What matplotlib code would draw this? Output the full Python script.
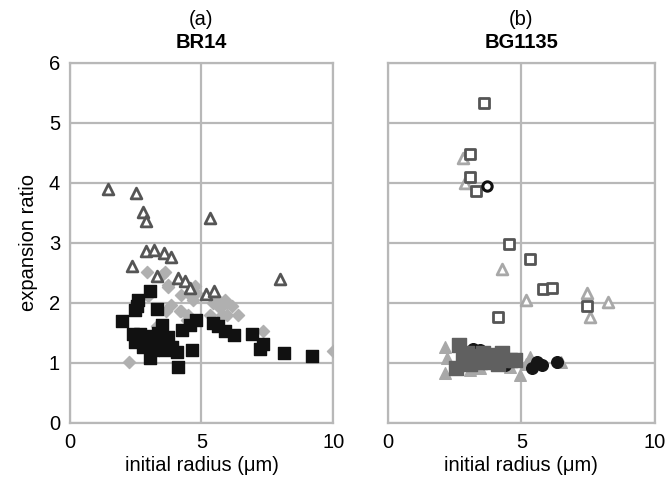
import matplotlib
matplotlib.use('Agg')
import matplotlib.pyplot as plt

plt.rcParams['font.family'] = ['Liberation Sans', 'DejaVu Sans']

# (a) BR14
br_tri_x = [1.46, 2.53, 2.78, 2.91, 5.34, 2.91, 3.2, 3.58, 3.86, 2.38, 3.32, 4.11, 4.39, 4.56, 5.19, 5.47, 8.0]
br_tri_y = [3.89, 3.83, 3.51, 3.36, 3.41, 2.87, 2.88, 2.83, 2.77, 2.61, 2.44, 2.41, 2.36, 2.24, 2.14, 2.19, 2.39]
br_dia_x = [2.94, 3.61, 3.5, 3.71, 4.75, 4.24, 4.56, 4.81, 4.68, 2.97, 3.86, 3.67, 4.24, 4.49, 5.44, 5.70,
            5.89, 6.14, 5.32, 5.95, 6.39, 3.32, 2.91, 7.34, 2.24, 10.0, 5.7, 3.74, 4.18, 4.44, 5.58, 5.96, 5.77]
br_dia_y = [2.51, 2.52, 2.47, 2.26, 2.28, 2.13, 2.13, 2.16, 2.05, 2.11, 1.97, 1.86, 1.86, 1.80, 1.99, 2.02,
            2.05, 1.94, 1.80, 1.80, 1.80, 1.61, 1.37, 1.53, 1.01, 1.2, 1.91, 2.3, 1.86, 1.72, 2.05, 1.99, 1.8]
br_sq_x = [3.04, 2.6, 2.47, 3.3, 1.97, 2.66, 2.47, 2.79, 3.17, 3.49, 3.49, 3.74, 3.87, 3.61, 3.17, 4.06,
           4.63, 3.04, 4.12, 4.25, 4.56, 4.81, 2.41, 5.44, 5.63, 5.89, 6.23, 6.9, 7.32, 7.22, 8.13, 9.2,
           2.55, 2.95, 3.35, 3.0]
br_sq_y = [2.19, 2.05, 1.88, 1.89, 1.69, 1.49, 1.35, 1.27, 1.38, 1.63, 1.35, 1.44, 1.27, 1.22, 1.22, 1.19,
           1.22, 1.08, 0.94, 1.55, 1.63, 1.72, 1.49, 1.66, 1.61, 1.54, 1.47, 1.49, 1.32, 1.24, 1.17, 1.12,
           1.94, 1.45, 1.5, 1.3]

# (b) BG1135
bg_osq_x = [3.61, 3.07, 3.07, 3.32, 4.53, 5.32, 5.82, 6.13, 7.44, 4.13]
bg_osq_y = [5.33, 4.48, 4.09, 3.86, 2.98, 2.73, 2.23, 2.24, 1.94, 1.76]
bg_otri_x = [2.8, 2.88, 4.28, 5.19, 7.44, 8.23, 7.57]
bg_otri_y = [4.42, 4.0, 2.56, 2.05, 2.17, 2.02, 1.77]
bg_ocirc_x = [3.72]
bg_ocirc_y = [3.95]
bg_sq_x = [2.67, 2.57, 2.95, 3.2, 3.57, 3.95, 4.26, 4.57, 3.07, 3.45, 3.82, 4.13, 4.76, 2.82]
bg_sq_y = [1.3, 0.91, 1.16, 1.11, 1.16, 1.13, 1.16, 1.05, 0.99, 1.02, 1.02, 0.99, 1.05, 1.05]
bg_circ_x = [3.2, 3.45, 5.57, 5.76, 5.38, 6.32, 4.38]
bg_circ_y = [1.24, 1.22, 1.02, 0.97, 0.91, 1.02, 0.97]
bg_tri_x = [2.13, 2.2, 2.13, 4.94, 5.32, 6.5, 4.57, 3.07, 3.45, 5.19]
bg_tri_y = [1.27, 1.08, 0.83, 0.8, 1.1, 1.02, 0.94, 0.88, 0.92, 0.99]

fig = plt.figure(figsize=(6.65, 4.79), dpi=100)
ax1 = fig.add_axes([0.105, 0.117, 0.396, 0.752])
ax2 = fig.add_axes([0.583, 0.117, 0.402, 0.752])

fs = 14.5
gc = '#b8b8b8'
for ax in (ax1, ax2):
    ax.set_xlim(0, 10)
    ax.set_ylim(0, 6)
    ax.set_xticks([0, 5, 10])
    ax.set_yticks(range(7))
    ax.grid(True, color=gc, linewidth=1.6)
    ax.set_axisbelow(True)
    for s in ax.spines.values():
        s.set_color(gc)
        s.set_linewidth(1.6)
    ax.tick_params(length=0, labelsize=fs, pad=7)
    ax.set_xlabel('initial radius (\u03bcm)', fontsize=fs, labelpad=3)

ax2.tick_params(labelleft=False)
ax1.set_ylabel('expansion ratio', fontsize=fs, labelpad=8)

ax1.scatter(br_dia_x, br_dia_y, marker='D', s=38, color='#b0b0b0', zorder=3)
ax1.scatter(br_sq_x, br_sq_y, marker='s', s=80, color='#111111', zorder=4)
ax1.scatter(br_tri_x, br_tri_y, marker='^', s=60, facecolors='white', edgecolors='#555555',
            linewidths=2, zorder=5)

ax2.scatter(bg_tri_x, bg_tri_y, marker='^', s=70, color='#a8a8a8', zorder=3)
ax2.scatter(bg_circ_x, bg_circ_y, marker='o', s=70, color='#151515', zorder=3)
ax2.scatter(bg_sq_x, bg_sq_y, marker='s', s=90, color='#606060', zorder=4)
ax2.scatter(bg_otri_x, bg_otri_y, marker='^', s=60, facecolors='white', edgecolors='#a8a8a8',
            linewidths=2, zorder=5)
ax2.scatter(bg_osq_x, bg_osq_y, marker='s', s=55, facecolors='white', edgecolors='#555555',
            linewidths=2, zorder=5)
ax2.scatter(bg_ocirc_x, bg_ocirc_y, marker='o', s=45, facecolors='white', edgecolors='#111111',
            linewidths=2.2, zorder=5)

for ax, lab, sub in ((ax1, '(a)', 'BR14'), (ax2, '(b)', 'BG1135')):
    ax.text(0.5, 1.095, lab, transform=ax.transAxes, ha='center', va='bottom', fontsize=fs)
    ax.text(0.5, 1.03, sub, transform=ax.transAxes, ha='center', va='bottom', fontsize=fs,
            fontweight='bold')

fig.savefig('out.png', dpi=100)
